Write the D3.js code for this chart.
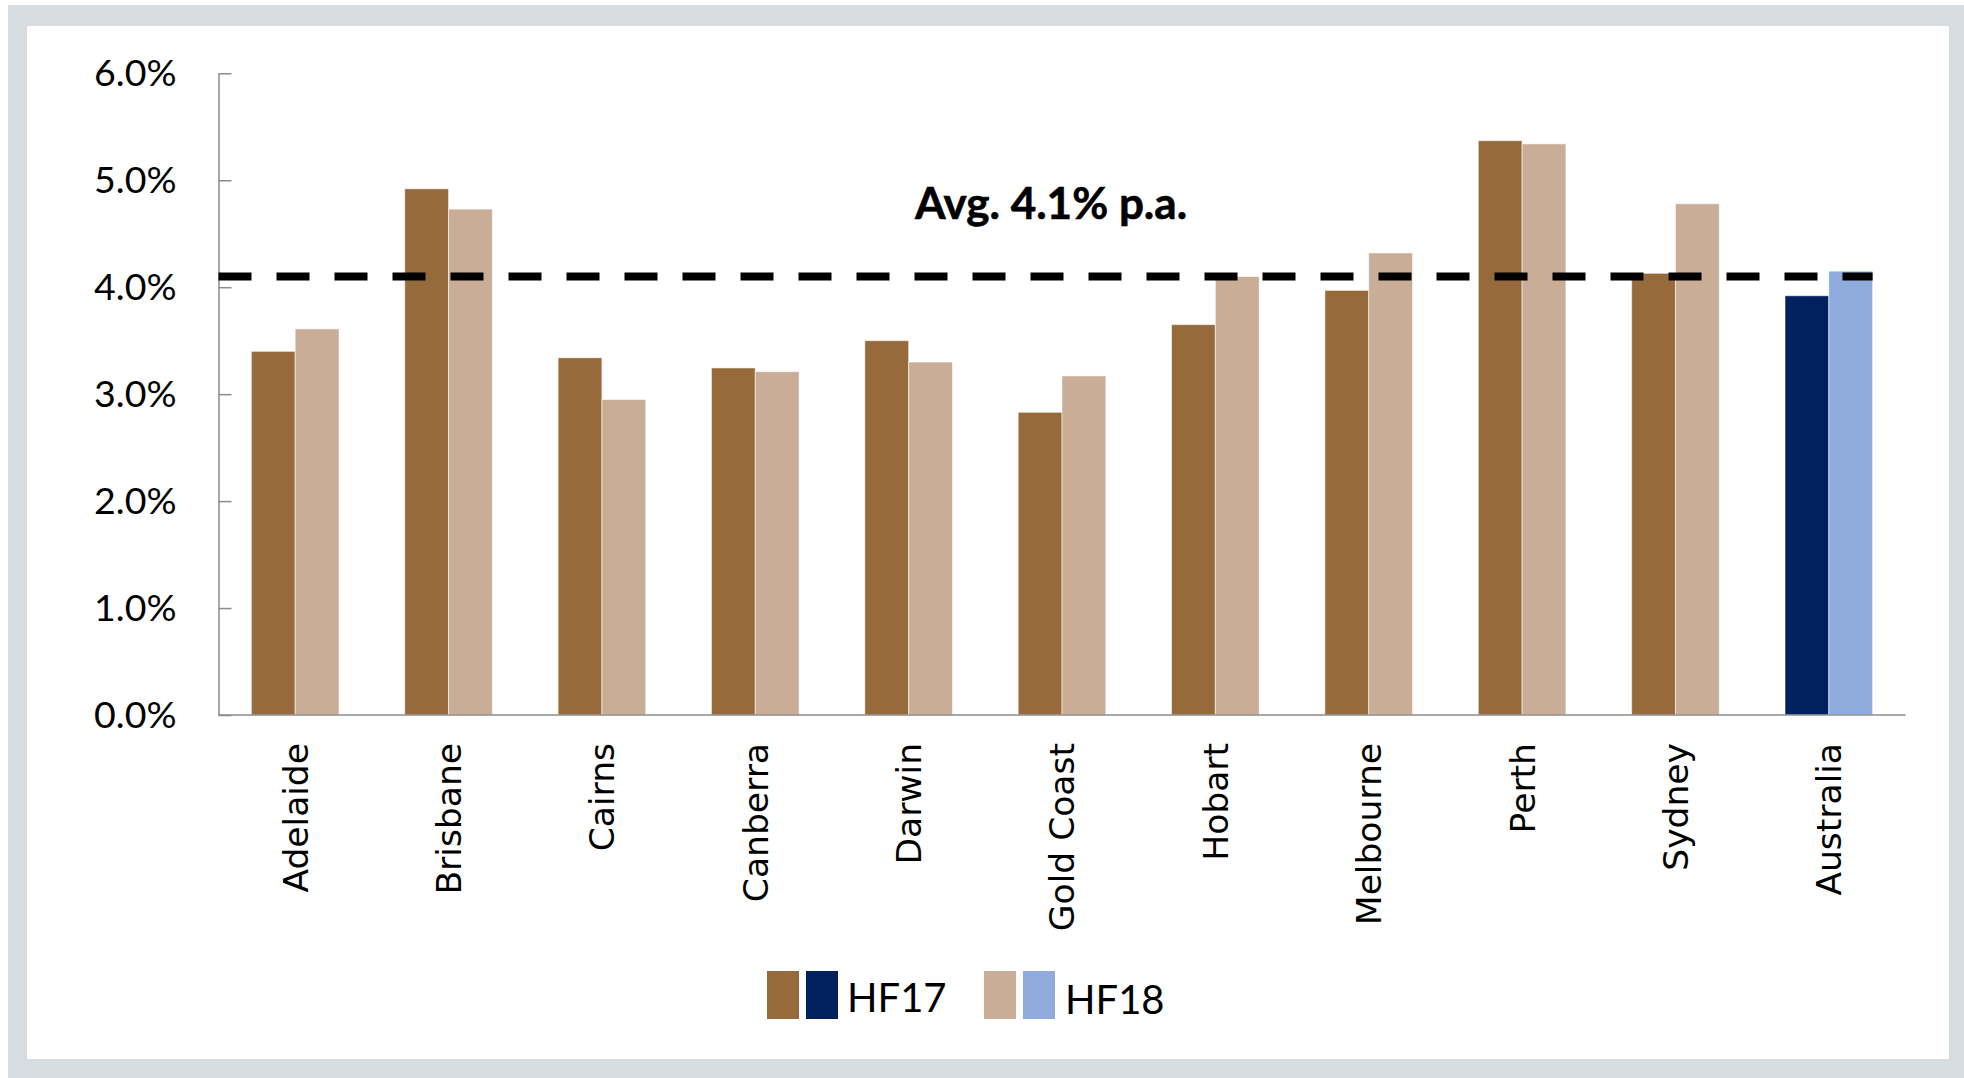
<!DOCTYPE html>
<html>
<head>
<meta charset="utf-8">
<script src="https://cdn.jsdelivr.net/npm/d3@7"></script>
<style>
  html, body { margin: 0; padding: 0; background: #ffffff; }
  svg { display: block; }
</style>
</head>
<body>
<svg id="chart" width="1964" height="1078"></svg>
<script>
// Annual growth by city, two survey waves
const cities = ["Adelaide", "Brisbane", "Cairns", "Canberra", "Darwin", "Gold Coast",
                "Hobart", "Melbourne", "Perth", "Sydney", "Australia"];
const hf17 = [3.40, 4.92, 3.34, 3.245, 3.50, 2.83, 3.65, 3.97, 5.37, 4.13, 3.92];
const hf18 = [3.61, 4.73, 2.95, 3.21, 3.30, 3.17, 4.10, 4.32, 5.34, 4.78, 4.15];
const seriesNames = ["HF17", "HF18"];
const yTicks = [0, 1, 2, 3, 4, 5, 6];
const averageGrowth = 4.1;
const averageLabel = "Avg. 4.1% p.a.";

// Colours: cities in browns, the national figure in blues
const cityColours = { HF17: "#966a3b", HF18: "#caad97" };
const nationalColours = { HF17: "#00205e", HF18: "#8faadc" };

const svg = d3.select("#chart");
const W = 1964, H = 1078;

// Frame: grey border around a white panel
svg.append("rect").attr("x", 8).attr("y", 5).attr("width", W - 8).attr("height", H - 5)
  .attr("fill", "#d6dcdf");
svg.append("rect").attr("x", 27).attr("y", 26).attr("width", 1949 - 27).attr("height", 1059 - 26)
  .attr("fill", "#ffffff");

const plot = { left: 218.5, right: 1905.5, top: 73.3, bottom: 715 };

const x0 = d3.scaleBand()
  .domain(cities)
  .range([plot.left, plot.right])
  .paddingInner(0.4286)
  .paddingOuter(0.2143);

const x1 = d3.scaleBand()
  .domain(seriesNames)
  .range([0, x0.bandwidth()]);

const y = d3.scaleLinear().domain([0, 6]).range([plot.bottom, plot.top]);

const rows = cities.map((c, i) => ({ city: c, HF17: hf17[i], HF18: hf18[i] }));

// Bars
const groups = svg.append("g").selectAll("g")
  .data(rows)
  .join("g")
  .attr("transform", d => `translate(${x0(d.city)},0)`);

groups.selectAll("rect")
  .data(d => seriesNames.map(s => ({ city: d.city, key: s, value: d[s] })))
  .join("rect")
  .attr("x", d => x1(d.key))
  .attr("width", x1.bandwidth())
  .attr("y", d => y(d.value))
  .attr("height", d => y(0) - y(d.value))
  .attr("fill", d => (d.city === "Australia" ? nationalColours : cityColours)[d.key])
  .attr("stroke", "rgba(255,255,255,0.55)")
  .attr("stroke-width", 1);

// Y axis with inward ticks
const yAxis = d3.axisLeft(y)
  .tickValues(yTicks)
  .tickFormat(v => d3.format(".1%")(v / 100))
  .tickSizeInner(-13)
  .tickSizeOuter(0)
  .tickPadding(42);

const yg = svg.append("g")
  .attr("transform", `translate(${plot.left},0)`)
  .call(yAxis);
yg.select(".domain").attr("stroke", "#8c8c8c").attr("stroke-width", 1.5);
yg.selectAll(".tick line").attr("stroke", "#8c8c8c").attr("stroke-width", 1.5);
yg.selectAll(".tick text")
  .attr("font-family", "Lato, 'Open Sans', sans-serif")
  .attr("font-size", 37.5)
  .attr("fill", "#000");

// X axis baseline
svg.append("line")
  .attr("x1", plot.left).attr("x2", plot.right)
  .attr("y1", y(0)).attr("y2", y(0))
  .attr("stroke", "#8c8c8c").attr("stroke-width", 1.5);

// Category labels, rotated
svg.append("g").selectAll("text")
  .data(cities)
  .join("text")
  .attr("transform", d => `translate(${x0(d) + x0.bandwidth() / 2},743) rotate(-90)`)
  .attr("text-anchor", "end")
  .attr("dy", "0.36em")
  .attr("font-family", "'DejaVu Sans', Verdana, sans-serif")
  .attr("font-size", 34.5)
  .attr("fill", "#000")
  .text(d => d);

// Average reference line
const lastCity = cities[cities.length - 1];
svg.append("line")
  .attr("x1", plot.left)
  .attr("x2", x0(lastCity) + x0.bandwidth())
  .attr("y1", y(averageGrowth)).attr("y2", y(averageGrowth))
  .attr("stroke", "#000")
  .attr("stroke-width", 8)
  .attr("stroke-dasharray", "33,25");

svg.append("text")
  .attr("x", 1051).attr("y", 219)
  .attr("text-anchor", "middle")
  .attr("font-family", "Lato, 'Open Sans', sans-serif")
  .attr("font-weight", "bold")
  .attr("font-size", 44)
  .attr("stroke", "#000")
  .attr("stroke-width", 0.6)
  .attr("fill", "#000")
  .text(averageLabel);

// Legend: each wave shows its city and national colour
const legendItems = [
  { name: "HF17", x: 767, textX: 847, baseline: 1012 },
  { name: "HF18", x: 984, textX: 1065, baseline: 1014 }
];
const legend = svg.append("g");
legendItems.forEach(item => {
  legend.append("rect").attr("x", item.x).attr("y", 971).attr("width", 32).attr("height", 48)
    .attr("fill", cityColours[item.name]);
  legend.append("rect").attr("x", item.x + 39).attr("y", 971).attr("width", 32).attr("height", 48)
    .attr("fill", nationalColours[item.name]);
  legend.append("text").attr("x", item.textX).attr("y", item.baseline)
    .attr("font-family", "Lato, 'Open Sans', sans-serif")
    .attr("font-size", 40)
    .attr("fill", "#000")
    .text(item.name);
});
</script>
</body>
</html>
